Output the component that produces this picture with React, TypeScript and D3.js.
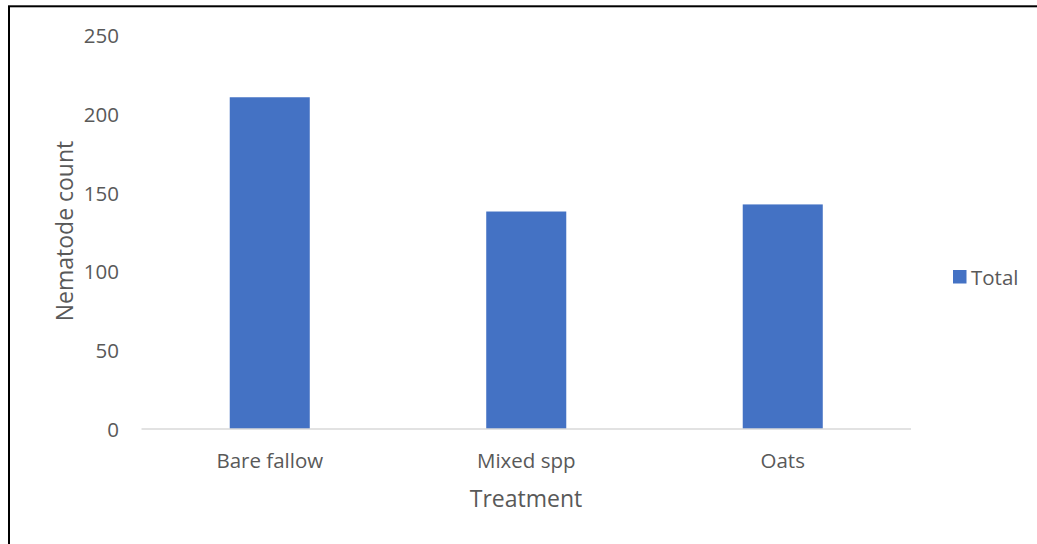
import React from "react";
import * as d3 from "d3";

// Nematode counts per treatment
const categories: string[] = ["Bare fallow", "Mixed spp", "Oats"];
const totals: number[] = [210.5, 138, 142.5];
const yTicks: number[] = [0, 50, 100, 150, 200, 250];
const seriesName = "Total";

const W = 1037;
const H = 544;
const plot = { left: 141.5, right: 911, top: 35, bottom: 429 };
const FONT = "'Open Sans', sans-serif";
const TEXT = "#595959";
const BAR = "#4472C4";

export default function App() {
  const x = d3
    .scaleBand<string>()
    .domain(categories)
    .range([plot.left, plot.right])
    .paddingInner(0.688)
    .paddingOuter(0.344);
  const y = d3.scaleLinear().domain([0, 250]).range([plot.bottom, plot.top]);

  return (
    <svg
      width={W}
      height={H}
      style={{ position: "absolute", left: 0, top: 0, background: "#fff" }}
      fontFamily={FONT}
    >
      {/* outer frame, running past the right and bottom edges */}
      <rect x={9} y={6.3} width={W + 20} height={H + 20} fill="#fff" stroke="#000" strokeWidth={2} />

      {/* y tick labels */}
      {yTicks.map((t) => (
        <text
          key={t}
          x={119}
          y={y(t)}
          textAnchor="end"
          dominantBaseline="central"
          fontSize={20.5}
          fill={TEXT}
        >
          {t}
        </text>
      ))}

      {/* bars */}
      {categories.map((c, i) => (
        <rect
          key={c}
          x={x(c)}
          y={y(totals[i])}
          width={x.bandwidth()}
          height={y(0) - y(totals[i])}
          fill={BAR}
        />
      ))}

      {/* baseline */}
      <line x1={plot.left} x2={plot.right} y1={y(0)} y2={y(0)} stroke="#d9d9d9" strokeWidth={1.5} />

      {/* category labels */}
      {categories.map((c) => (
        <text
          key={c}
          x={(x(c) ?? 0) + x.bandwidth() / 2}
          y={468}
          textAnchor="middle"
          fontSize={20.5}
          fill={TEXT}
        >
          {c}
        </text>
      ))}

      {/* axis titles */}
      <text x={526} y={506.5} textAnchor="middle" fontSize={23} fill={TEXT}>
        Treatment
      </text>
      <text
        transform={`translate(72.5, 231) rotate(-90)`}
        textAnchor="middle"
        fontSize={23}
        fill={TEXT}
      >
        Nematode count
      </text>

      {/* legend */}
      <rect x={953} y={270} width={13.5} height={13.5} fill={BAR} />
      <text x={971} y={277} dominantBaseline="central" fontSize={20.5} fill={TEXT}>
        {seriesName}
      </text>
    </svg>
  );
}
